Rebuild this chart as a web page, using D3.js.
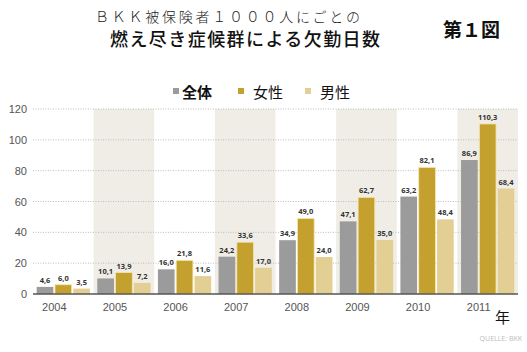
<!DOCTYPE html>
<html>
<head>
<meta charset="utf-8">
<script src="https://cdn.jsdelivr.net/npm/d3@7"></script>
<style>
  body { margin: 0; background: #fff; }
  svg { display: block; font-family: "Open Sans", "Noto Sans", sans-serif; }
</style>
</head>
<body>
<svg id="chart"></svg>
<script>
const years = ["2004", "2005", "2006", "2007", "2008", "2009", "2010", "2011"];
const seriesNames = ["全体", "女性", "男性"];
const total = [4.6, 10.1, 16.0, 24.2, 34.9, 47.1, 63.2, 86.9];
const women = [6.0, 13.9, 21.8, 33.6, 49.0, 62.7, 82.1, 110.3];
const men = [3.5, 7.2, 11.6, 17.0, 24.0, 35.0, 48.4, 68.4];
const yTicks = [0, 20, 40, 60, 80, 100, 120];

const colors = ["#9b9b9b", "#c4a02f", "#e3cf94"];
const width = 527, height = 352;
const margin = { top: 109, right: 9, bottom: 58, left: 33 };

const svg = d3.select("#chart").attr("width", width).attr("height", height);

// Titles
const jp = "'Noto Sans CJK JP', sans-serif";
svg.append("text").attr("x", 95).attr("y", 22)
  .attr("font-family", jp).attr("font-size", 14).attr("font-weight", 300)
  .attr("textLength", 265).attr("fill", "#222")
  .text("ＢＫＫ被保険者１０００人にごとの");
svg.append("text").attr("x", 110).attr("y", 46)
  .attr("font-family", jp).attr("font-size", 18).attr("font-weight", 500)
  .attr("textLength", 270).attr("fill", "#111")
  .text("燃え尽き症候群による欠勤日数");
svg.append("text").attr("x", 443).attr("y", 37)
  .attr("font-family", jp).attr("font-size", 19).attr("font-weight", 700)
  .attr("fill", "#111").text("第１図");

// Scales
const x = d3.scaleBand().domain(years).range([margin.left, width - margin.right]);
const y = d3.scaleLinear().domain([0, 120]).range([height - margin.bottom, margin.top]);
const xs = d3.scaleBand().domain(seriesNames).range([0, x.bandwidth()]).paddingInner(0.09).paddingOuter(0.2);

// Alternating bands
svg.append("g").selectAll("rect")
  .data(years.filter((d, i) => i % 2 === 1))
  .join("rect")
  .attr("x", d => x(d))
  .attr("y", y(120))
  .attr("width", x.bandwidth())
  .attr("height", y(0) - y(120))
  .attr("fill", "#efede6");

// Gridlines
svg.append("g").selectAll("line")
  .data(yTicks.filter(d => d > 0))
  .join("line")
  .attr("x1", margin.left).attr("x2", width - margin.right)
  .attr("y1", d => y(d)).attr("y2", d => y(d))
  .attr("stroke", "#bdbdbd").attr("stroke-width", 1)
  .attr("stroke-dasharray", "1,1.5");

// Y axis labels
const yAxis = svg.append("g")
  .attr("transform", `translate(${margin.left},0)`)
  .call(d3.axisLeft(y).tickValues(yTicks).tickSize(0).tickPadding(6));
yAxis.select(".domain").remove();
yAxis.selectAll("text").attr("font-size", 11).attr("fill", "#555");

// Bars
const series = [total, women, men];
const rows = years.map((yr, i) => seriesNames.map((s, j) => ({ yr, s, j, v: series[j][i] })));
const groups = svg.append("g").selectAll("g")
  .data(rows)
  .join("g")
  .attr("transform", (d, i) => `translate(${x(years[i])},0)`);

groups.selectAll("rect")
  .data(d => d)
  .join("rect")
  .attr("x", d => xs(d.s))
  .attr("y", d => y(d.v))
  .attr("width", xs.bandwidth())
  .attr("height", d => y(0) - y(d.v))
  .attr("fill", d => colors[d.j])
  .attr("stroke", d => d.j === 1 ? "#f3e7a8" : "none")
  .attr("stroke-width", 0.8);

groups.selectAll("text")
  .data(d => d)
  .join("text")
  .attr("x", d => xs(d.s) + xs.bandwidth() / 2)
  .attr("y", d => y(d.v) - 4)
  .attr("text-anchor", "middle")
  .attr("font-size", 7.5)
  .attr("font-weight", 700)
  .attr("fill", "#333")
  .text(d => d.v.toFixed(1).replace(".", ","));

// Baseline
svg.append("line")
  .attr("x1", margin.left).attr("x2", width - margin.right)
  .attr("y1", y(0)).attr("y2", y(0))
  .attr("stroke", "#555").attr("stroke-width", 1.5);

// X axis labels
const xAxis = svg.append("g")
  .attr("transform", `translate(-9,${y(0)})`)
  .call(d3.axisBottom(x).tickSize(0).tickPadding(9));
xAxis.select(".domain").remove();
xAxis.selectAll("text").attr("font-size", 11).attr("fill", "#555");

// Legend
const legendX = [173, 238, 305];
const legend = svg.append("g").selectAll("g")
  .data(seriesNames)
  .join("g")
  .attr("transform", (d, i) => `translate(${legendX[i]},93)`);
legend.append("rect")
  .attr("x", 0).attr("y", -5).attr("width", 6).attr("height", 6)
  .attr("fill", (d, i) => colors[i]);
legend.append("text")
  .attr("x", (d, i) => i === 0 ? 9 : 15)
  .attr("y", 0)
  .attr("dy", "0.35em")
  .attr("font-family", jp)
  .attr("font-size", 15)
  .attr("font-weight", (d, i) => i === 0 ? 700 : 400)
  .attr("fill", "#111")
  .text(d => d);

// Axis unit and source
svg.append("text").attr("x", 495).attr("y", 323)
  .attr("font-family", jp).attr("font-size", 15).attr("fill", "#111").text("年");
svg.append("text").attr("x", 522).attr("y", 341)
  .attr("text-anchor", "end").attr("font-size", 7).attr("fill", "#bbb")
  .text("QUELLE: BKK");
</script>
</body>
</html>
